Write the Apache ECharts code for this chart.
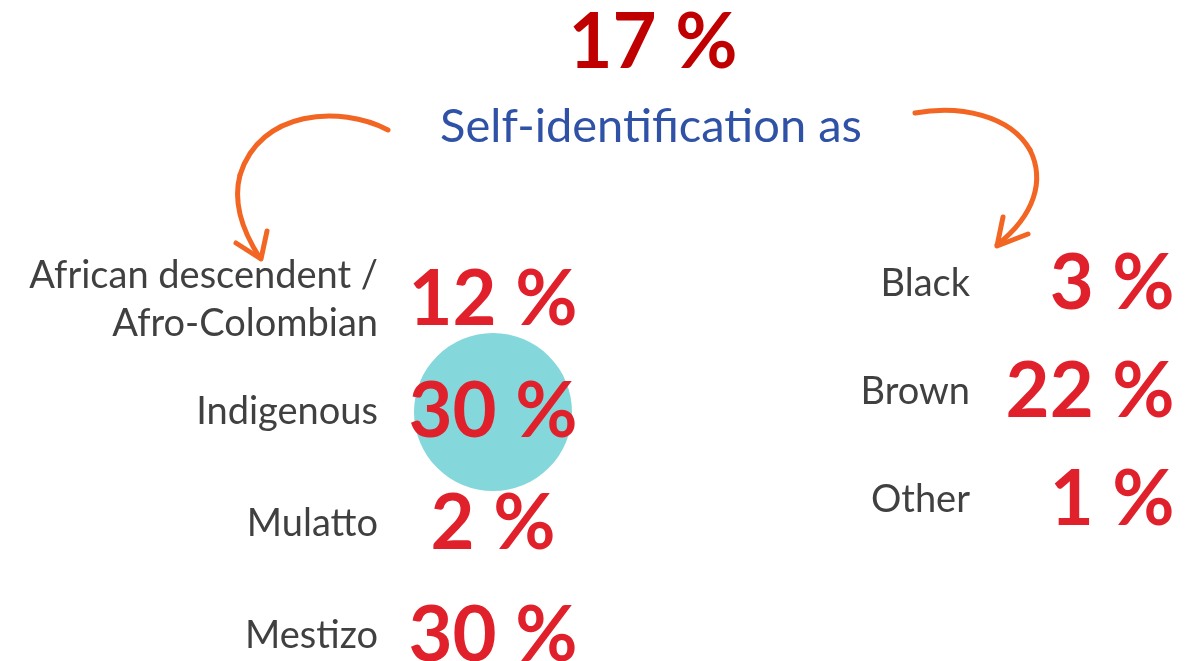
<!DOCTYPE html>
<html>
<head>
<meta charset="utf-8">
<script src="https://cdn.jsdelivr.net/npm/echarts@6/dist/echarts.min.js"></script>
<style>
  html, body { margin: 0; padding: 0; background: #fff; }
  #chart { width: 1191px; height: 661px; }
</style>
</head>
<body>
<div id="chart"></div>
<script>
const total = '17 %';
const subtitle = 'Self-identification as';

const leftCats = ['African descendent /\nAfro-Colombian', 'Indigenous', 'Mulatto', 'Mestizo'];
const leftValues = [12, 30, 2, 30];
const rightCats = ['Black', 'Brown', 'Other'];
const rightValues = [3, 22, 1];
const highlighted = 'Indigenous';

const FONT = 'Lato, "Open Sans", sans-serif';
const RED = '#E0212B';
const GRAY = '#404040';
const ORANGE = '#F26522';

const chart = echarts.init(document.getElementById('chart'));

const valueLabel = {
    show: true,
    color: RED,
    fontSize: 76,
    fontWeight: 'bold',
    fontFamily: FONT,
    formatter: p => p.value[2] + ' %'
};

const catAxis = (idx, cats) => ({
    type: 'category',
    gridIndex: idx,
    data: cats,
    inverse: true,
    axisLine: { show: false },
    axisTick: { show: false },
    splitLine: { show: false },
    axisLabel: {
        color: GRAY,
        fontSize: 38,
        lineHeight: 48,
        fontFamily: FONT,
        margin: 8,
        align: 'right'
    }
});

const valAxis = idx => ({
    type: 'value',
    gridIndex: idx,
    min: 0,
    max: 1,
    show: false
});

const stroke = { fill: null, stroke: ORANGE, lineWidth: 5, lineCap: 'round', lineJoin: 'round' };

const option = {
    animation: false,
    backgroundColor: '#fff',
    title: [
        {
            text: total,
            left: 648,
            textAlign: 'center',
            top: 0,
            textStyle: { color: '#C00000', fontSize: 76, fontWeight: 'bold', fontFamily: FONT }
        },
        {
            text: subtitle,
            left: 646,
            textAlign: 'center',
            top: 98,
            textStyle: { color: '#2F52A6', fontSize: 47, fontWeight: 'normal', fontFamily: FONT }
        }
    ],
    grid: [
        { left: 386, width: 214, top: 244, height: 448, outerBoundsMode: 'none' },
        { left: 978, right: 16, top: 230, height: 324, outerBoundsMode: 'none' }
    ],
    xAxis: [valAxis(0), valAxis(1)],
    yAxis: [catAxis(0, leftCats), catAxis(1, rightCats)],
    series: [
        {
            type: 'scatter',
            xAxisIndex: 0,
            yAxisIndex: 0,
            z: 3,
            data: leftCats.map((c, i) => ({
                value: [0.5, c, leftValues[i]],
                symbolSize: c === highlighted ? 158 : 1,
                itemStyle: { color: c === highlighted ? '#84D7DA' : 'rgba(0,0,0,0)', opacity: 1 }
            })),
            label: Object.assign({ position: 'inside' }, valueLabel)
        },
        {
            type: 'scatter',
            xAxisIndex: 1,
            yAxisIndex: 1,
            symbolSize: 1,
            itemStyle: { color: 'rgba(0,0,0,0)', opacity: 1 },
            data: rightCats.map((c, i) => [1, c, rightValues[i]]),
            label: Object.assign({ position: 'left', distance: 0, align: 'right' }, valueLabel)
        }
    ],
    graphic: [
        // left arrow
        {
            type: 'bezierCurve',
            shape: { x1: 388, y1: 130, cpx1: 340, cpy1: 105, cpx2: 260, cpy2: 110, x2: 240, y2: 175 },
            style: stroke
        },
        {
            type: 'bezierCurve',
            shape: { x1: 240, y1: 175, cpx1: 232, cpy1: 205, cpx2: 245, cpy2: 235, x2: 260, y2: 258 },
            style: stroke
        },
        {
            type: 'polyline',
            shape: { points: [[267, 231], [261, 259], [236, 243]] },
            style: stroke
        },
        // right arrow
        {
            type: 'bezierCurve',
            shape: { x1: 915, y1: 113, cpx1: 960, cpy1: 105, cpx2: 1010, cpy2: 115, x2: 1030, y2: 150 },
            style: stroke
        },
        {
            type: 'bezierCurve',
            shape: { x1: 1030, y1: 150, cpx1: 1045, cpy1: 180, cpx2: 1035, cpy2: 215, x2: 997, y2: 245 },
            style: stroke
        },
        {
            type: 'polyline',
            shape: { points: [[1003, 217], [997, 246], [1028, 234]] },
            style: stroke
        }
    ]
};

chart.setOption(option);
</script>
</body>
</html>
